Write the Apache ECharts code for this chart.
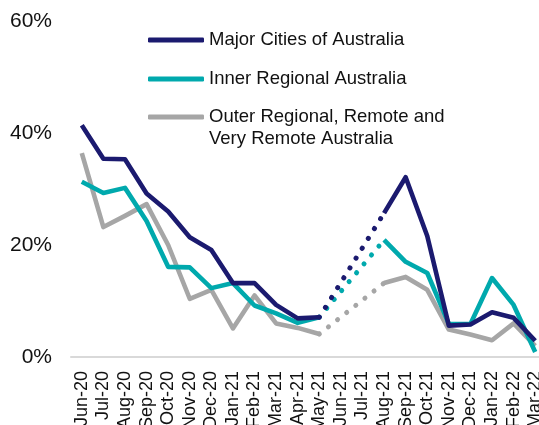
<!DOCTYPE html>
<html>
<head>
<meta charset="utf-8">
<script src="https://cdn.jsdelivr.net/npm/echarts@6/dist/echarts.min.js"></script>
<style>
  html, body { margin: 0; padding: 0; background: #fff; }
  #chart { width: 539px; height: 425px; }
</style>
</head>
<body>
<div id="chart"></div>
<script>
  const months = ['Jun-20', 'Jul-20', 'Aug-20', 'Sep-20', 'Oct-20', 'Nov-20', 'Dec-20', 'Jan-21',
    'Feb-21', 'Mar-21', 'Apr-21', 'May-21', 'Jun-21', 'Jul-21', 'Aug-21', 'Sep-21', 'Oct-21',
    'Nov-21', 'Dec-21', 'Jan-22', 'Feb-22', 'Mar-22']
  // null = no data (Jun-21, Jul-21), bridged with a dotted line
  const majorCities = [41.4, 35.4, 35.3, 29.2, 26, 21.4, 19.1, 13.2, 13.2, 9.3, 6.9, 7.1, null, null,
    25.7, 32.1, 21.6, 5.6, 5.8, 8, 7, 2.9]
  const innerRegional = [31.3, 29.3, 30.2, 24.3, 16.1, 16, 12.3, 13.2, 9.2, 7.8, 6.1, 7.1, null, null,
    20.9, 17, 15, 5.9, 5.9, 14.1, 9.3, 0.9]
  const outerRemote = [36.4, 23.2, 25.2, 27.3, 20, 10.4, 12, 5.1, 11, 6, 5.2, 4.1, null, null,
    13.2, 14.3, 12, 4.9, 4, 3, 6, 2]
  const yTicks = [0, 20, 40, 60]

  const names = ['Major Cities of Australia', 'Inner Regional Australia',
    'Outer Regional, Remote and Very Remote Australia']
  const colors = ['#1b1a6f', '#00a9ad', '#a6a6a6']
  const values = [majorCities, innerRegional, outerRemote]

  // only the two ends of the gap, joined by connectNulls
  function bridge (arr) {
    return arr.map((v, i) => (i === 11 || i === 14) ? v : null)
  }

  const series = []
  values.forEach((arr, i) => {
    series.push({
      name: names[i],
      type: 'line',
      data: arr,
      symbol: 'none',
      color: colors[i],
      lineStyle: { width: 4.6, color: colors[i], join: 'round' },
      z: 3 - i
    })
  })
  values.forEach((arr, i) => {
    series.push({
      name: names[i] + ' (gap)',
      type: 'line',
      data: bridge(arr),
      connectNulls: true,
      symbol: 'none',
      lineStyle: { width: 5, color: colors[i], type: [0.1, 11.5], cap: 'round' },
      z: 3 - i
    })
  })

  const legendText = { fontSize: 18.5, color: '#111', fontFamily: 'Liberation Sans, Arial', lineHeight: 22 }

  const chart = echarts.init(document.getElementById('chart'))
  chart.setOption({
    animation: false,
    textStyle: { fontFamily: 'Liberation Sans, Arial' },
    grid: { left: 71, right: -7, top: 21, bottom: 68, outerBoundsMode: 'none' },
    legend: [
      {
        data: names.slice(0, 2),
        orient: 'vertical',
        left: 148,
        top: 29,
        padding: 0,
        itemGap: 17,
        itemWidth: 56,
        itemHeight: 5,
        icon: 'roundRect',
        textStyle: legendText
      },
      {
        // blank first line keeps the icon level with "Outer Regional..."
        data: names.slice(2),
        orient: 'vertical',
        left: 148,
        top: 84,
        padding: 0,
        itemWidth: 56,
        itemHeight: 5,
        icon: 'roundRect',
        formatter: function () { return ' \nOuter Regional, Remote and\nVery Remote Australia' },
        textStyle: legendText
      }
    ],
    xAxis: {
      type: 'category',
      data: months,
      boundaryGap: true,
      axisLine: { lineStyle: { color: '#d9d9d9', width: 2 } },
      axisTick: { show: false },
      axisLabel: { rotate: 90, interval: 0, fontSize: 18, color: '#111', margin: 14 }
    },
    yAxis: {
      type: 'value',
      min: yTicks[0],
      max: yTicks[yTicks.length - 1],
      interval: yTicks[1] - yTicks[0],
      splitLine: { show: false },
      axisLine: { show: false },
      axisTick: { show: false },
      axisLabel: { formatter: '{value}%', fontSize: 21, color: '#111', margin: 19 }
    },
    series: series
  })
</script>
</body>
</html>
